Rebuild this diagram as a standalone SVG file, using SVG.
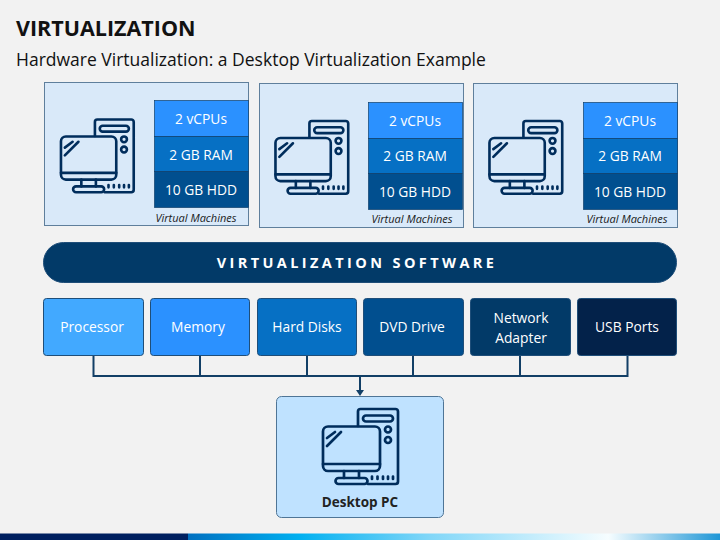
<svg xmlns="http://www.w3.org/2000/svg" width="720" height="540" viewBox="0 0 720 540">
<style>
text{font-family:"Open Sans","Noto Sans","Liberation Sans",sans-serif;text-anchor:middle}
.vm{fill:#d9e9f9;stroke:#5f7f9c;stroke-width:1}
.hw{stroke:#1f4e79;stroke-width:1}
.s{stroke:#0f3f6b;stroke-width:.7}
.w{fill:#fff;font-size:13.800px}
.cap{fill:#1a1a1a;font-size:11px;font-style:italic}
.ico{fill:none;stroke:#002d5c;stroke-width:2.700;stroke-linecap:round;stroke-linejoin:round}
.con{fill:none;stroke:#123f66;stroke-width:2}
</style>
<defs>
<linearGradient id="bar" x1="0" x2="1" y1="0" y2="0">
<stop offset="0" stop-color="#0070c0"/><stop offset=".21" stop-color="#00b0f0"/><stop offset=".45" stop-color="#7fd6f8"/><stop offset=".79" stop-color="#f6fdff"/><stop offset="1" stop-color="#1e96d6"/>
</linearGradient>
<g id="pc" class="ico">
<path d="M36 18V3.500a2.500 2.500 0 0 1 2.500-2.500H73.500a2.500 2.500 0 0 1 2.500 2.500V73.500a2.500 2.500 0 0 1-2.500 2.500H46"/>
<rect x="41" y="7.500" width="30" height="6" rx="3"/>
<circle cx="66" cy="21.500" r="3"/><circle cx="66" cy="32" r="3"/>
<rect x="1" y="18.500" width="57" height="44.500" rx="5"/>
<path d="M1 56H58M22 63V70M37 63V70"/>
<rect x="13.500" y="70" width="32" height="6" rx="3"/>
<path d="M50 68.500V71M55.500 68.500V71M61 68.500V71M66 68.500V71M71 68.500V71"/>
<path d="M5 30L13 24M5 38L19 24"/>
</g>
</defs>
<rect width="720" height="540" fill="#f2f2f2"/>
<text x="16" y="36" style="text-anchor:start;font-size:21.500px;font-weight:700" fill="#111">VIRTUALIZATION</text>
<text x="16" y="66" style="text-anchor:start;font-size:17.500px" fill="#111">Hardware Virtualization: a Desktop Virtualization Example</text>

<g id="vm1">
<rect class="vm" x="44.500" y="82.500" width="204" height="143"/>
<use href="#pc" transform="translate(60 118.500) scale(.97)"/>
<rect x="154.500" y="100.500" width="94" height="36" fill="#2b91ff" class="s"/>
<rect x="154.500" y="136.500" width="94" height="35" fill="#0670c4" class="s"/>
<rect x="154.500" y="171.500" width="94" height="36" fill="#014f8f" class="s"/>
<text class="w" x="201" y="124">2 vCPUs</text><text class="w" x="201" y="160">2 GB RAM</text><text class="w" x="201" y="195">10 GB HDD</text>
<text class="cap" x="196" y="222">Virtual Machines</text>
</g>
<g id="vm2">
<rect class="vm" x="259.500" y="83.500" width="204" height="144"/>
<use href="#pc" transform="translate(274.500 120) scale(.97)"/>
<rect x="368.500" y="102.500" width="94" height="36" fill="#2b91ff" class="s"/>
<rect x="368.500" y="138.500" width="94" height="35" fill="#0670c4" class="s"/>
<rect x="368.500" y="173.500" width="94" height="36" fill="#014f8f" class="s"/>
<text class="w" x="415" y="126">2 vCPUs</text><text class="w" x="415" y="161">2 GB RAM</text><text class="w" x="415" y="197">10 GB HDD</text>
<text class="cap" x="412" y="223">Virtual Machines</text>
</g>
<g id="vm3">
<rect class="vm" x="473.500" y="83.500" width="204" height="144"/>
<use href="#pc" transform="translate(488.500 120) scale(.97)"/>
<rect x="583.500" y="102.500" width="94" height="36" fill="#2b91ff" class="s"/>
<rect x="583.500" y="138.500" width="94" height="35" fill="#0670c4" class="s"/>
<rect x="583.500" y="173.500" width="94" height="36" fill="#014f8f" class="s"/>
<text class="w" x="630" y="126">2 vCPUs</text><text class="w" x="630" y="161">2 GB RAM</text><text class="w" x="630" y="197">10 GB HDD</text>
<text class="cap" x="627" y="223">Virtual Machines</text>
</g>

<g id="software">
<rect x="43.500" y="242.500" width="633" height="40" rx="20" fill="#023a68" stroke="#1f4e79"/>
<text x="357" y="268" style="font-size:14.500px;font-weight:700;letter-spacing:3.400px" fill="#fff">VIRTUALIZATION SOFTWARE</text>
</g>

<g id="connectors">
<path class="con" d="M93.500 356V376H627.500V356M200 356V376M307 356V376M413 356V376M520 356V376M360 376V390"/>
<path d="M356 390H364L360 396Z" fill="#123f66"/>
</g>

<g id="processor"><rect class="hw" x="43.500" y="298.500" width="100" height="57" rx="3" fill="#42a9ff"/><text class="w" x="92" y="332">Processor</text></g>
<g id="memory"><rect class="hw" x="150.500" y="298.500" width="99" height="57" rx="3" fill="#2b91ff"/><text class="w" x="198" y="332">Memory</text></g>
<g id="harddisks"><rect class="hw" x="257.500" y="298.500" width="99" height="57" rx="3" fill="#0670c4"/><text class="w" x="307" y="332">Hard Disks</text></g>
<g id="dvd"><rect class="hw" x="363.500" y="298.500" width="100" height="57" rx="3" fill="#014f8f"/><text class="w" x="412" y="332">DVD Drive</text></g>
<g id="network"><rect class="hw" x="470.500" y="298.500" width="100" height="57" rx="3" fill="#023a68"/><text class="w" x="521" y="323">Network</text><text class="w" x="521" y="343">Adapter</text></g>
<g id="usb"><rect class="hw" x="577.500" y="298.500" width="99" height="57" rx="3" fill="#03224a"/><text class="w" x="627" y="332">USB Ports</text></g>

<g id="desktop">
<rect x="276.500" y="396.500" width="167" height="121" rx="5" fill="#bfe2ff" stroke="#4f7596"/>
<use href="#pc" transform="translate(322 408)"/>
<text x="360" y="507" style="font-size:13.500px;font-weight:700" fill="#222">Desktop PC</text>
</g>

<rect id="bar-dark" y="533.500" width="188" height="6.500" fill="#002060"/>
<rect id="bar-light" x="188" y="533.500" width="532" height="6.500" fill="url(#bar)"/>
</svg>
